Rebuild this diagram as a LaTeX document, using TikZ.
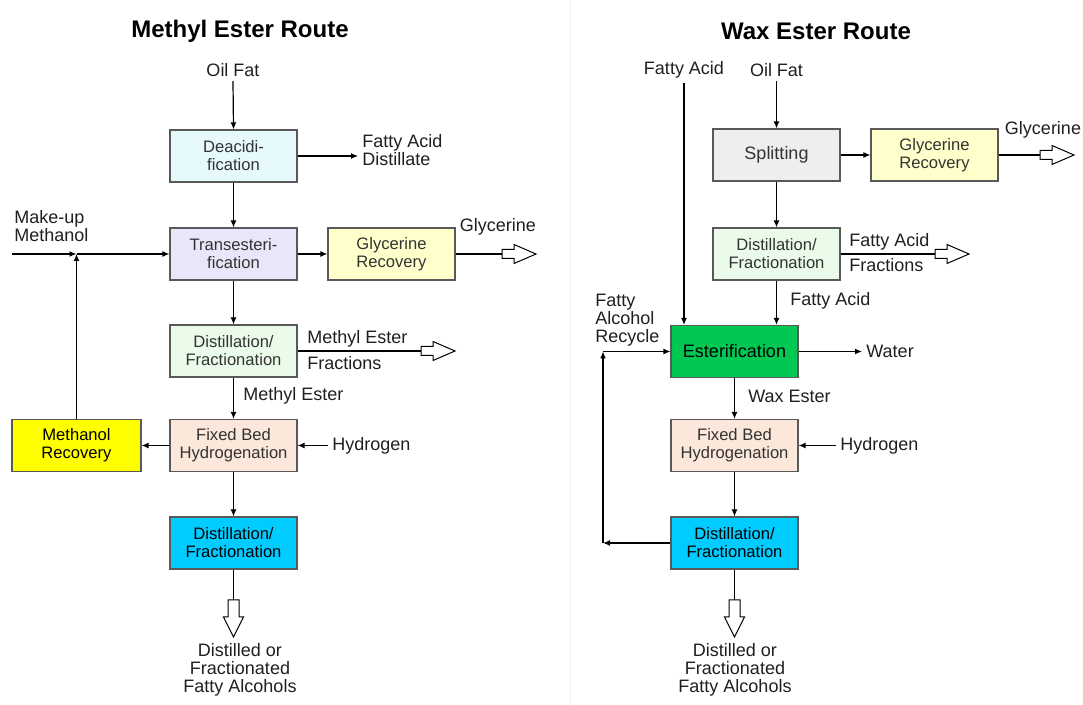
\documentclass[tikz,border=0pt]{standalone}
\usepackage{fontspec}
\setmainfont{Liberation Sans}
\usepackage{xcolor}
\usetikzlibrary{arrows.meta}
\definecolor{deacfill}{HTML}{E6FAFE}
\definecolor{transfill}{HTML}{E8E6F8}
\definecolor{glycfill}{HTML}{FFFFCC}
\definecolor{distfill}{HTML}{EAFBEA}
\definecolor{hydfill}{HTML}{FCE8DA}
\definecolor{methfill}{HTML}{FFFF00}
\definecolor{cutfill}{HTML}{00CCFF}
\definecolor{splitfill}{HTML}{EEEEEE}
\definecolor{esterfill}{HTML}{00C853}
\definecolor{divcol}{HTML}{EEF3F7}

\begin{document}
\begin{tikzpicture}[x=0.5pt,y=-0.5pt]
                \tikzstyle{every node}+=[inner sep=0pt]
                \tikzstyle{unit}=[draw=black!65, line width=0.6pt, minimum width=63.5pt, minimum height=26pt, align=center, text=black!80, font=\fontsize{8.3}{9}\selectfont]
                \tikzstyle{lbl}=[inner sep=2pt, align=left, text=black!88, font=\fontsize{9}{9}\selectfont]
                \tikzstyle{ttl}=[text=black, font=\bfseries\fontsize{12}{12}\selectfont]
                \tikzstyle{flow}=[line width=0.6pt, -{Latex[length=3.5pt,width=3pt]}]
                \tikzstyle{pipe}=[line width=0.6pt]
                \tikzset{outright/.pic={\draw[line width=0.5pt, fill=white] (0,-4.5) -- (12,-4.5) -- (12,-9.5) -- (34,0) -- (12,9.5) -- (12,4.5) -- (0,4.5) -- cycle;},
                         outdown/.pic={\draw[line width=0.5pt, fill=white] (-5.5,0) -- (-5.5,17) -- (-10,17) -- (0,37) -- (10,17) -- (5.5,17) -- (5.5,0) -- cycle;}}
                \useasboundingbox (0,0) rectangle (1083,705);
                \draw [divcol] (570,0) -- (570,705);
                % methyl ester route
                \node [ttl] (ttl1) at (240,31) {Methyl Ester Route};
                \node [lbl] (oil1) at (233,70) {Oil Fat};
                \node [unit, fill=deacfill] (deac) at (233.5,156) {Deacidi-\\fication};
                \node [unit, fill=transfill] (trans) at (233.5,254) {Transesteri-\\fication};
                \node [unit, fill=glycfill] (glyc1) at (391.5,254) {Glycerine\\Recovery};
                \node [unit, fill=distfill] (dist1) at (233.5,351) {Distillation/\\Fractionation};
                \node [unit, fill=hydfill] (hyd1) at (233.5,445.5) {Fixed Bed\\Hydrogenation};
                \node [unit, fill=methfill, minimum width=64.5pt, text=black] (meth) at (76.5,445.5) {Methanol\\Recovery};
                \node [unit, fill=cutfill, text=black] (dist2) at (233.5,543) {Distillation/\\Fractionation};
                \node [lbl, anchor=west] (fad) at (358,150) {Fatty Acid\\Distillate};
                \node [lbl, anchor=west] (mkup) at (10,226) {Make-up\\Methanol};
                \node [lbl] (gly1) at (498,227) {Glycerine};
                \node [lbl, anchor=west] (mef) at (303,339) {Methyl Ester};
                \node [lbl, anchor=west] (mefr) at (303,363) {Fractions};
                \node [lbl, anchor=west] (me) at (239,396) {Methyl Ester};
                \node [lbl, anchor=west] (h2a) at (328,445.5) {Hydrogen};
                \node [lbl, align=center] (fa1) at (240,670) {Distilled or\\Fractionated\\Fatty Alcohols};
                \coordinate (mkin) at (12,254);
                \coordinate (mjn) at (meth.north |- trans.west);
                \coordinate (gly1t) at (502,254);
                \coordinate (meft) at (421,351);
                \coordinate (fa1t) at (233.5,600);
                \draw [flow] (oil1.south) -- (deac.north);
                \draw [flow] (deac.east) -- (deac.east -| fad.west);
                \draw [flow] (deac) -- (trans);
                \draw [flow] (mkin) -- (mjn);
                \draw [flow] (meth.north) -- (mjn);
                \draw [flow] (mjn) -- (trans.west);
                \draw [flow] (trans) -- (glyc1);
                \draw [pipe] (glyc1.east) -- (gly1t);
                \pic at (gly1t) {outright};
                \draw [flow] (trans) -- (dist1);
                \draw [pipe] (dist1.east) -- (meft);
                \pic at (meft) {outright};
                \draw [flow] (dist1) -- (hyd1);
                \draw [flow] (h2a.west) -- (hyd1.east);
                \draw [flow] (hyd1) -- (meth);
                \draw [flow] (hyd1) -- (dist2);
                \draw [pipe] (dist2.south) -- (fa1t);
                \pic at (fa1t) {outdown};
                % wax ester route
                \node [ttl] (ttl2) at (816,31) {Wax Ester Route};
                \node [lbl] (fain) at (684,70) {Fatty Acid};
                \node [lbl] (oil2) at (776.5,70) {Oil Fat};
                \node [unit, fill=splitfill, font=\fontsize{9}{9}\selectfont] (split) at (776.5,155) {Splitting};
                \node [unit, fill=glycfill] (glyc2) at (934.5,155) {Glycerine\\Recovery};
                \node [unit, fill=distfill] (dist3) at (776.5,254) {Distillation/\\Fractionation};
                \node [unit, fill=esterfill, text=black, font=\fontsize{9}{9}\selectfont] (ester) at (734.5,351.5) {Esterification};
                \node [unit, fill=hydfill] (hyd2) at (734.5,445.5) {Fixed Bed\\Hydrogenation};
                \node [unit, fill=cutfill, text=black] (dist4) at (734.5,543) {Distillation/\\Fractionation};
                \node [lbl] (gly2) at (1043,130) {Glycerine};
                \node [lbl, anchor=west] (faf) at (845,242) {Fatty Acid};
                \node [lbl, anchor=west] (fafr) at (845,265) {Fractions};
                \node [lbl, anchor=west] (fast) at (786,301) {Fatty Acid};
                \node [lbl, anchor=west] (wat) at (862,351.5) {Water};
                \node [lbl, anchor=west] (rcy) at (591,320) {Fatty\\Alcohol\\Recycle};
                \node [lbl, anchor=west] (wax) at (744,396) {Wax Ester};
                \node [lbl, anchor=west] (h2b) at (836,445.5) {Hydrogen};
                \node [lbl, align=center] (fa2) at (735,670) {Distilled or\\Fractionated\\Fatty Alcohols};
                \coordinate (gly2t) at (1040,155);
                \coordinate (faft) at (935,254);
                \coordinate (rc1) at (603,543);
                \coordinate (rc2) at (603,351.5);
                \coordinate (fa2t) at (734.5,600);
                \draw [flow] (fain.south) -- (fain.south |- ester.north);
                \draw [flow] (oil2.south) -- (split.north);
                \draw [flow] (split) -- (glyc2);
                \draw [pipe] (glyc2.east) -- (gly2t);
                \pic at (gly2t) {outright};
                \draw [flow] (split) -- (dist3);
                \draw [pipe] (dist3.east) -- (faft);
                \pic at (faft) {outright};
                \draw [flow] (dist3.south) -- (dist3.south |- ester.north);
                \draw [flow] (ester.east) -- (wat.west);
                \draw [flow] (ester) -- (hyd2);
                \draw [flow] (h2b.west) -- (hyd2.east);
                \draw [flow] (hyd2) -- (dist4);
                \draw [flow] (dist4.west) -- (rc1);
                \draw [flow] (rc1) -- (rc2);
                \draw [flow] (rc2) -- (ester.west);
                \draw [pipe] (dist4.south) -- (fa2t);
                \pic at (fa2t) {outdown};
\end{tikzpicture}
\end{document}
